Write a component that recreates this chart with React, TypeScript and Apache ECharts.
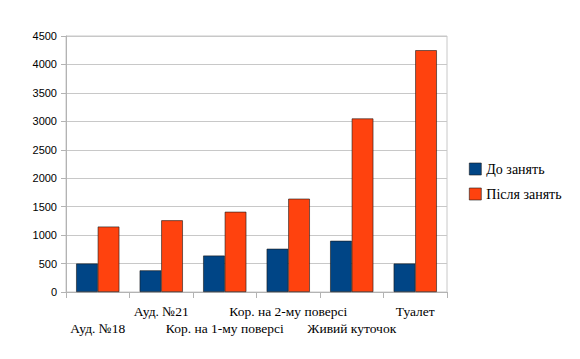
import React, { useEffect, useRef } from "react";
import * as echarts from "echarts";

const categories = ["Ауд. №18", "Ауд. №21", "Кор. на 1-му поверсі", "Кор. на 2-му поверсі", "Живий куточок", "Туалет"];
const beforeValues = [500, 380, 640, 760, 900, 500];
const afterValues = [1150, 1260, 1410, 1640, 3050, 4250];
const seriesNames = ["До занять", "Після занять"];

const serif = "Liberation Serif";

export default function App() {
  const ref = useRef<HTMLDivElement>(null);
  useEffect(() => {
    const chart = echarts.init(ref.current!, null, { renderer: "svg" });
    chart.setOption({
      animation: false,
      backgroundColor: "#ffffff",
      textStyle: { fontFamily: serif },
      grid: { left: 66, right: 133, top: 36, bottom: 67, show: true, borderColor: "#c8c8c8", borderWidth: 1 },
      legend: {
        orient: "vertical",
        left: 464,
        top: 157,
        icon: "rect",
        itemWidth: 12,
        itemHeight: 12,
        itemGap: 11,
        itemStyle: { borderColor: "#1a1a1a", borderWidth: 0.6 },
        textStyle: { fontFamily: serif, fontSize: 14, color: "#000" },
        data: seriesNames,
      },
      xAxis: {
        type: "category",
        data: categories,
        axisLine: { lineStyle: { color: "#b3b3b3" } },
        axisTick: { show: true, length: 6, lineStyle: { color: "#b3b3b3" } },
        axisLabel: {
          interval: 0,
          margin: 11,
          fontFamily: serif,
          fontSize: 13.5,
          color: "#000",
          lineHeight: 17,
          verticalAlign: "top",
          formatter: (v: string, i: number) => (i % 2 === 0 ? "\n" + v : v),
        },
      },
      yAxis: {
        type: "value",
        min: 0,
        max: 4500,
        interval: 500,
        axisLine: { show: true, lineStyle: { color: "#b3b3b3" } },
        axisTick: { show: true, length: 5, lineStyle: { color: "#b3b3b3" } },
        splitLine: { lineStyle: { color: "#c8c8c8" } },
        axisLabel: {
          fontFamily: "Liberation Sans",
          fontSize: 11,
          color: "#000",
          margin: 9,
          formatter: (v: number) => String(v),
        },
      },
      series: [
        {
          name: seriesNames[0],
          type: "bar",
          data: beforeValues,
          barGap: "0%",
          barCategoryGap: "32%",
          itemStyle: { color: "#004586", borderColor: "#1a1a1a", borderWidth: 0.6 },
        },
        {
          name: seriesNames[1],
          type: "bar",
          data: afterValues,
          itemStyle: { color: "#ff420e", borderColor: "#1a1a1a", borderWidth: 0.6 },
        },
      ],
    });
    return () => chart.dispose();
  }, []);
  return <div ref={ref} style={{ width: 580, height: 359, position: "absolute", left: 0, top: 0 }} />;
}
